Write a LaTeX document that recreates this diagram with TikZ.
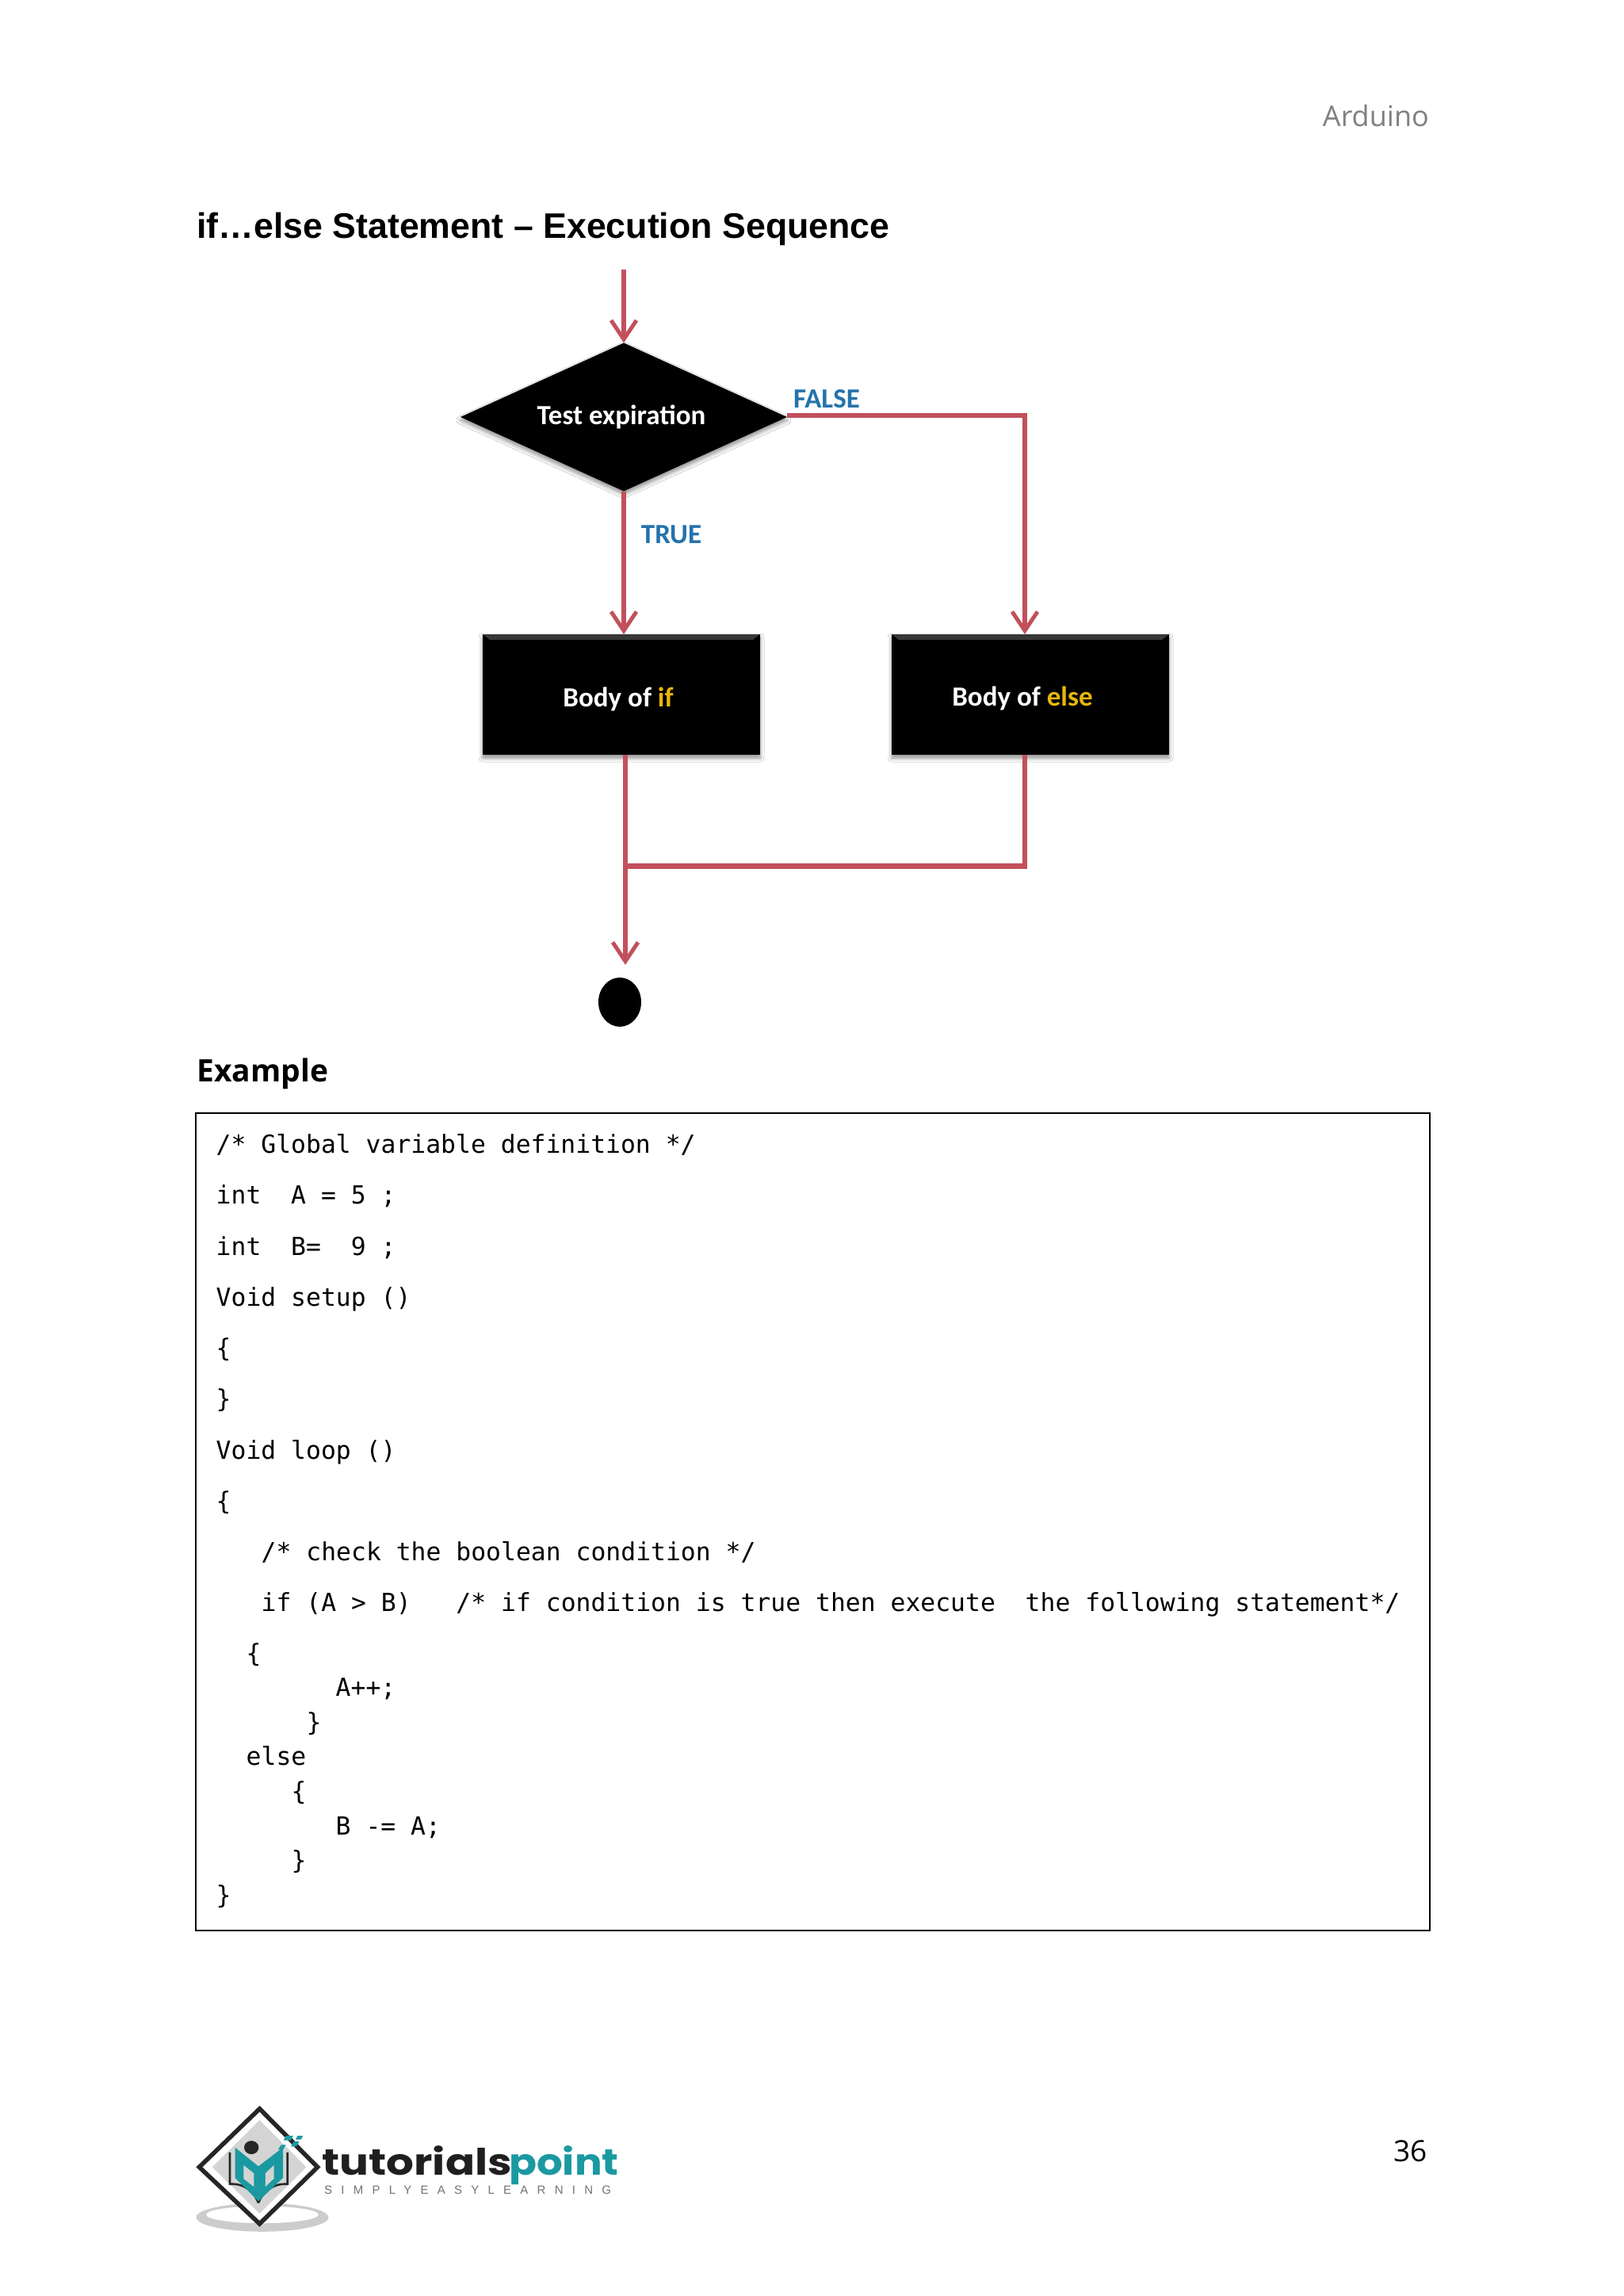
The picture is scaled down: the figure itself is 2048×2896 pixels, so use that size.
\documentclass[tikz,border=0pt]{standalone}
\usepackage{fontspec}
\usetikzlibrary{shapes.geometric,arrows.meta,shadows.blur,calc}
\setmainfont{Liberation Sans}
\newfontfamily\titlefont{Liberation Sans}
\newfontfamily\headfont{Open Sans}
\newfontfamily\codefont{DejaVu Sans Mono}
\newfontfamily\flowfont{Carlito}
\newfontfamily\logofont{Poppins}
\newfontfamily\tagfont[LetterSpace=75]{Liberation Sans}
\newcommand{\fsz}[1]{\fontsize{#1}{#1}\selectfont}
\definecolor{flowred}{HTML}{C2505C}
\definecolor{flowblue}{HTML}{2472AC}
\definecolor{flowgold}{HTML}{E8B60C}
\definecolor{logoteal}{HTML}{1B99A1}
\definecolor{logogrey}{HTML}{D4D4D4}
\tikzset{
  flowblock/.style={fill=black,draw=none,inner sep=0pt,outer sep=0pt,text=white,font=\flowfont\bfseries\fsz{35},
    blur shadow={shadow xshift=0pt,shadow yshift=-4pt,shadow blur radius=5pt,shadow blur steps=6,shadow opacity=45}},
  decisionbox/.style={flowblock,shape=diamond,aspect=2.2,minimum width=412pt,minimum height=187pt},
  bodybox/.style={flowblock,shape=rectangle,minimum width=350pt,minimum height=152pt},
  flowline/.style={draw=flowred,line width=5.5pt},
  flowarrow/.style={flowline,-{Straight Barb[length=24pt,width=32pt,line width=5pt]}},
  branchlabel/.style={text=flowblue,font=\flowfont\bfseries\fsz{35},inner sep=0pt,anchor=center},
  codeline/.style={anchor=base west,inner sep=0pt,font=\codefont\fsz{31.4}},
  plaintext/.style={inner sep=0pt}
}
\begin{document}
\begin{tikzpicture}[x=1pt,y=-1pt]
\useasboundingbox (0,0) rectangle (2048,2896);
\fill[white] (0,0) rectangle (2048,2896);

% page furniture
\node[plaintext,anchor=base east,text=black!50,font=\headfont\fsz{36}] (running) at (1803,159) {Arduino};
\node[plaintext,anchor=base west,font=\titlefont\bfseries\fsz{44.7}] (title) at (248,300) {if…else Statement – Execution Sequence};
\node[plaintext,anchor=base west,font=\headfont\bfseries\fsz{39}] (example) at (248,1364) {Example};
\node[plaintext,anchor=base east,font=\headfont\fsz{37}] (pageno) at (1801,2726) {36};

% flowchart
\node[decisionbox] (test) at (787,526) {Test expiration\hspace*{6pt}};
\node[bodybox] (ifbox) at (784,876) {\raisebox{-15pt}[0pt][0pt]{Body of \textcolor{flowgold}{if}}\hspace*{8pt}};
\node[bodybox] (elsebox) at (1300,876) {\raisebox{-14pt}[0pt][0pt]{Body of \textcolor{flowgold}{else}}\hspace*{20pt}};
\fill[black!78] (ifbox.north west) -- (ifbox.north east) -- ([xshift=-9pt,yshift=-7pt]ifbox.north east) -- ([xshift=9pt,yshift=-7pt]ifbox.north west) -- cycle;
\fill[black!78] (elsebox.north west) -- (elsebox.north east) -- ([xshift=-9pt,yshift=-7pt]elsebox.north east) -- ([xshift=9pt,yshift=-7pt]elsebox.north west) -- cycle;
\node[fill=black,ellipse,inner sep=0pt,minimum width=54pt,minimum height=62pt] (stop) at (782,1264) {};

\coordinate (start) at (787,340);
\coordinate (elsein) at ([xshift=-7pt]elsebox.north);
\coordinate (elseout) at ([xshift=-7pt]elsebox.south);
\coordinate (ifin) at (test.south |- ifbox.north);
\coordinate (ifout) at ([xshift=5pt]ifbox.south);
\coordinate (merge) at (ifout |- 0,1092);
\coordinate (stopin) at (ifout |- 0,1217);
\coordinate (falseout) at (993,524);

\draw[flowarrow] (start) -- (test.north);
\draw[flowarrow] (test.south) -- (ifin);
\draw[flowarrow] (falseout) -| (elsein);
\draw[flowline] (ifout) -- (merge);
\draw[flowarrow] (merge) -- (stopin);
\draw[flowline] (elseout) -- (elseout |- merge);
\draw[flowred,line width=7pt] (merge) -- ([xshift=2.7pt]elseout |- merge);

\node[branchlabel] (false) at (1043,503) {FALSE};
\node[branchlabel] (true) at (847,674) {TRUE};

% code box
\node[draw=black,line width=2.4pt,inner sep=0pt,minimum width=1557pt,minimum height=1031pt,anchor=north west] (codebox) at (246,1403) {};
\node[codeline] (c1) at (272.5,1454) {/*~Global~variable~definition~*/};
\node[codeline] (c2) at (272.5,1518) {int~~A~=~5~;};
\node[codeline] (c3) at (272.5,1583.5) {int~~B=~~9~;};
\node[codeline] (c4) at (272.5,1647) {Void~setup~()};
\node[codeline] (c5) at (272.5,1711) {\{};
\node[codeline] (c6) at (272.5,1775.5) {\}};
\node[codeline] (c7) at (272.5,1840) {Void~loop~()};
\node[codeline] (c8) at (272.5,1904) {\{};
\node[codeline] (c9) at (329.5,1968) {/*~check~the~boolean~condition~*/};
\node[codeline] (c10) at (329.5,2032.5) {if~(A~>~B)~~~/*~if~condition~is~true~then~execute~~the~following~statement*/};
\node[codeline] (c11) at (310.5,2096) {\{};
\node[codeline] (c12) at (423.5,2139.5) {A++;};
\node[codeline] (c13) at (386.5,2183.5) {\}};
\node[codeline] (c14) at (310.5,2226.5) {else};
\node[codeline] (c15) at (367.5,2270.5) {\{};
\node[codeline] (c16) at (423.5,2314.5) {B~-=~A;};
\node[codeline] (c17) at (367.5,2357.5) {\}};
\node[codeline] (c18) at (272.5,2401.5) {\}};

% logo
\begin{scope}[shift={(220,2630)},x=0.3827pt,y=-0.339pt]
  \fill[black!20,even odd rule] (290,492) ellipse [x radius=218,y radius=53] (290,482) ellipse [x radius=186,y radius=32];
  \fill[white] (281,85) -- (475,305) -- (281,520) -- (80,305) -- cycle;
  \fill[logogrey] (281,130) -- (435,305) -- (281,478) -- (125,305) -- cycle;
  \draw[black!85,line width=5.5pt,line join=miter] (281,88) -- (472,305) -- (281,516) -- (82,305) -- cycle;
  \draw[black!85,line width=2.6pt] (183,250) -- (183,368) .. controls (230,365) and (262,395) .. (277,438);
  \draw[black!85,line width=2.6pt] (373,250) -- (373,368) .. controls (326,365) and (292,395) .. (277,438);
  \fill[logoteal] (200,232) -- (277,302) -- (358,232) -- (358,345) -- (277,432) -- (200,345) -- cycle;
  \fill[logogrey] (228,298) -- (262,328) -- (262,378) -- (228,348) -- cycle;
  \fill[logogrey] (300,328) -- (328,298) -- (328,348) -- (300,378) -- cycle;
  \fill[black!85] (254,232) ellipse [x radius=24,y radius=25];
  \fill[logoteal] (342,240) -- (352,222) -- (368,222) -- (358,240) -- cycle;
  \fill[logoteal] (360,205) -- (368,188) -- (392,188) -- (384,205) -- cycle;
  \fill[logoteal] (384,228) -- (394,210) -- (412,210) -- (402,228) -- cycle;
  \fill[logoteal] (400,202) -- (406,188) -- (424,188) -- (418,202) -- cycle;
\end{scope}
\node[plaintext,anchor=base west,font=\logofont\bfseries\fsz{46},text=black!88,xscale=1.19,transform shape] (logoa) at (406,2743) {tutorials};
\node[plaintext,anchor=base east,font=\logofont\bfseries\fsz{46},text=logoteal,xscale=1.12,transform shape] (logob) at (781,2743) {point};
\node[plaintext,anchor=base west,font=\tagfont\fsz{15},text=black!55] (logoc) at (409,2767) {SIMPLYEASYLEARNING};
\end{tikzpicture}
\end{document}
